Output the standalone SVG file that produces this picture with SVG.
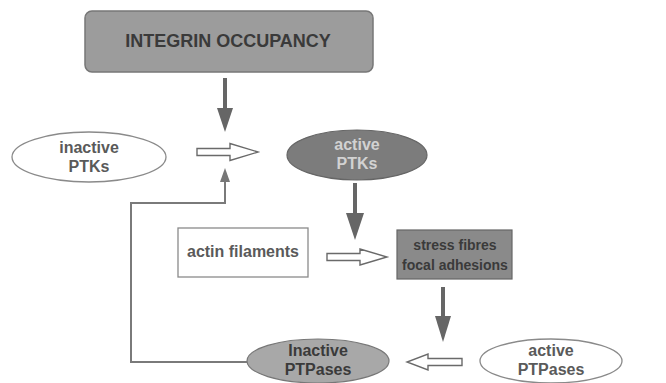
<svg xmlns="http://www.w3.org/2000/svg" width="666" height="383" viewBox="0 0 666 383">
<style>
text{font-family:"Liberation Sans",Arial,sans-serif;font-weight:bold;font-size:16px;text-anchor:middle}
.w{fill:#fff;stroke:#8a8a8a;stroke-width:1.3}
.tw{fill:#5a5a5a}
.td{fill:#3a3a3a}
.tl{fill:#d2d2d2}
.solid{fill:#666;stroke:none}
.hollow{fill:#fff;stroke:#6a6a6a;stroke-width:1.4;stroke-linejoin:miter}
.line{fill:none;stroke:#7a7a7a;stroke-width:2}
</style>
<rect width="666" height="383" fill="#fff"/>
<g id="integrin">
<rect x="85" y="11" width="288" height="61" rx="7" fill="#9c9c9c" stroke="#777" stroke-width="1.5"/>
<text x="228" y="47" class="td" style="font-size:18px">INTEGRIN OCCUPANCY</text>
</g>
<g id="inactivePTKs">
<ellipse cx="89" cy="157" rx="77" ry="25" class="w"/>
<text x="89" y="153" class="tw">inactive</text>
<text x="89" y="172" class="tw">PTKs</text>
</g>
<g id="activePTKs">
<ellipse cx="357" cy="155" rx="70" ry="25" fill="#7c7c7c" stroke="#666" stroke-width="1.2"/>
<text x="357" y="150" class="tl">active</text>
<text x="357" y="169" class="tl">PTKs</text>
</g>
<g id="actin">
<rect x="178" y="228" width="130" height="49" class="w"/>
<text x="243" y="257" class="tw">actin filaments</text>
</g>
<g id="stress">
<rect x="397" y="230" width="115" height="49" fill="#8a8a8a" stroke="#666" stroke-width="1.2"/>
<text x="455" y="250" class="td" style="font-size:14px">stress fibres</text>
<text x="455" y="270" class="td" style="font-size:14px">focal adhesions</text>
</g>
<g id="inactivePTPases">
<ellipse cx="318" cy="361" rx="71" ry="22" fill="#a8a8a8" stroke="#777" stroke-width="1.2"/>
<text x="318" y="356" class="td">Inactive</text>
<text x="318" y="375" class="td">PTPases</text>
</g>
<g id="activePTPases">
<ellipse cx="551" cy="361" rx="71" ry="22" class="w"/>
<text x="551" y="356" class="tw">active</text>
<text x="551" y="375" class="tw">PTPases</text>
</g>
<g id="connectors">
<rect x="223" y="78" width="4" height="32" class="solid"/>
<polygon points="217,108 233,108 225,132" class="solid"/>
<polygon points="197,148.500 230,148.500 230,143.500 258,152 230,160.500 230,155.500 197,155.500" class="hollow"/>
<rect x="353" y="183" width="4" height="32" class="solid"/>
<polygon points="346,213 364,213 355,240" class="solid"/>
<polygon points="327,253.500 360,253.500 360,249 387,257 360,265 360,260.500 327,260.500" class="hollow"/>
<rect x="441" y="287" width="4" height="31" class="solid"/>
<polygon points="435,316 451,316 443,342" class="solid"/>
<polygon points="462,358.500 428,358.500 428,354 407,362 428,370 428,365.500 462,365.500" class="hollow"/>
<path d="M247 362 H131 V203 H225 V180" class="line"/>
<polygon points="220,182 230,182 225,168" fill="#777"/>
</g>
</svg>
